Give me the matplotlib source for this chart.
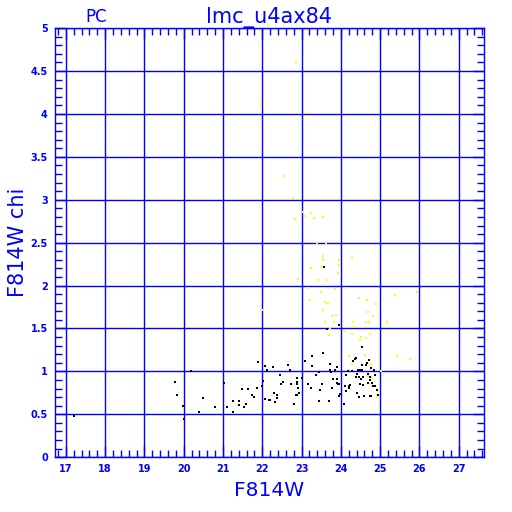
import matplotlib
matplotlib.use("Agg")
import matplotlib.pyplot as plt
from matplotlib.ticker import MultipleLocator

# black (good) points: F814W magnitude, chi
black_x = [17.20, 19.77, 19.83, 19.99, 20.01, 20.19, 20.38, 20.49, 20.79, 21.02,
           21.11, 21.25, 21.26, 21.40, 21.42, 21.49, 21.54, 21.58, 21.63,
           21.73, 21.80, 21.86, 21.89, 21.99, 22.03, 22.08, 22.11, 22.08, 22.16, 22.19,
           22.28, 22.30, 22.32, 22.38, 22.38, 22.45, 22.49, 22.52, 22.66, 22.70,
           22.72, 22.80, 22.86, 22.88, 22.88, 22.88, 22.89, 22.91, 22.93, 23.02,
           23.08, 23.17, 23.23, 23.27, 23.26, 23.37, 23.44, 23.45, 23.47, 23.52,
           23.54, 23.56, 23.64, 23.73, 23.71, 23.73, 23.76, 23.78, 23.79, 23.86,
           23.91, 23.91, 23.90, 23.93, 23.96, 23.96, 23.98, 23.95, 24.08, 24.10,
           24.12, 24.13, 24.19, 24.20, 24.22, 24.24, 24.29, 24.32, 24.36, 24.39,
           24.39, 24.41, 24.42, 24.44, 24.47, 24.49, 24.49, 24.51, 24.53, 24.46,
           24.54, 24.54, 24.56, 24.56, 24.58, 24.65, 24.66, 24.68, 24.70, 24.71,
           24.73, 24.73, 24.75, 24.78, 24.78, 24.80, 24.82, 24.84, 24.85, 24.87,
           24.88, 24.93, 24.95]
black_y = [0.48, 0.88, 0.72, 0.60, 0.44, 1.01, 0.53, 0.69, 0.58, 0.87,
           0.58, 0.65, 0.53, 0.65, 0.61, 0.80, 0.58, 0.62, 0.80,
           0.73, 0.70, 0.81, 1.11, 0.83, 0.89, 1.06, 1.02, 0.68, 0.67, 0.67,
           1.05, 0.75, 0.64, 0.73, 0.69, 0.96, 0.85, 0.88, 1.08, 1.02,
           0.85, 0.62, 0.73, 0.72, 0.88, 0.92, 0.85, 0.81, 0.75, 0.92,
           1.12, 0.85, 0.81, 1.18, 1.06, 0.96, 0.99, 0.66, 0.78, 0.85,
           1.22, 2.22, 1.49, 1.09, 0.66, 1.02, 0.99, 0.81, 0.91, 1.02,
           1.05, 0.91, 0.86, 0.85, 0.85, 0.71, 0.74, 1.54, 0.62, 0.83,
           0.96, 0.77, 1.00, 0.83, 0.81, 0.84, 1.01, 1.12, 1.15, 1.16,
           0.94, 0.75, 0.97, 1.02, 0.93, 1.02, 0.85, 0.91, 1.28, 0.70,
           1.08, 1.02, 0.94, 0.84, 0.71, 1.07, 1.10, 0.87, 0.97, 1.13,
           0.93, 0.90, 0.71, 1.04, 0.71, 0.86, 0.83, 1.02, 0.83, 0.96,
           0.83, 0.78, 0.73]

# yellow (rejected) points
yellow_x = [22.87, 21.97, 23.12, 22.56, 22.78, 23.04, 23.24, 23.09, 23.33, 23.55,
            22.83, 22.00,
            23.39, 23.62, 23.54, 23.54, 23.50, 23.23, 23.95, 23.95, 24.29, 23.92,
            22.91, 23.41, 23.62, 23.58, 23.17, 23.49, 23.85, 24.13, 25.38, 25.94,
            23.22, 23.59, 23.68, 24.46, 24.66, 24.90, 23.54, 23.88, 23.78, 24.70,
            24.82, 23.61, 23.83, 24.30, 24.65, 24.71, 25.17, 24.34, 23.73, 24.07,
            24.29, 23.69, 24.75, 24.51, 24.65, 24.49, 23.98, 24.20, 24.61, 25.44,
            25.77, 24.29, 24.76, 25.02, 25.72, 24.70, 24.80, 24.80, 24.92]
yellow_y = [4.60, 4.10, 4.01, 3.28, 3.02, 2.86, 2.85, 2.81, 2.79, 2.80,
            2.78, 1.72,
            2.48, 2.48, 2.34, 2.30, 2.22, 2.20, 2.30, 2.24, 2.32, 2.15,
            2.08, 2.06, 2.06, 2.01, 1.97, 1.93, 1.96, 1.97, 1.89, 1.93,
            1.83, 1.81, 1.80, 1.85, 1.83, 1.79, 1.72, 1.66, 1.64, 1.69,
            1.64, 1.58, 1.58, 1.58, 1.57, 1.57, 1.58, 1.52, 1.51, 1.47,
            1.44, 1.43, 1.44, 1.40, 1.39, 1.37, 1.17, 1.18, 1.19, 1.18,
            1.15, 1.09, 1.08, 1.01, 1.02, 0.95, 0.92, 0.83, 0.71]

x_ticks = [17, 18, 19, 20, 21, 22, 23, 24, 25, 26, 27]
y_ticks = [0, 0.5, 1, 1.5, 2, 2.5, 3, 3.5, 4, 4.5, 5]
y_tick_labels = ["0", "0.5", "1", "1.5", "2", "2.5", "3", "3.5", "4", "4.5", "5"]

BLUE = "#0000ff"

fig = plt.figure(figsize=(5.12, 5.12), dpi=100)
ax = fig.add_axes([0.107, 0.107, 0.838, 0.838])

ax.set_xlim(16.72, 27.64)
ax.set_ylim(0, 5)

ax.set_xticks(x_ticks)
ax.set_xticklabels([str(t) for t in x_ticks])
ax.set_yticks(y_ticks)
ax.set_yticklabels(y_tick_labels)
ax.xaxis.set_minor_locator(MultipleLocator(0.2))
ax.yaxis.set_minor_locator(MultipleLocator(0.1))

ax.grid(True, which="major", color=BLUE, linewidth=1.0)
ax.set_axisbelow(True)

for sp in ax.spines.values():
    sp.set_color(BLUE)
    sp.set_linewidth(1.0)

ax.tick_params(which="both", direction="in", top=True, right=True, color=BLUE)
ax.tick_params(which="major", length=8, width=1.0, labelsize=7, labelcolor=BLUE, pad=5)
ax.tick_params(which="minor", length=5, width=1.0)
for lab in ax.get_xticklabels() + ax.get_yticklabels():
    lab.set_fontweight("bold")

ax.scatter(yellow_x, yellow_y, marker="s", s=4, c="#ffff00", linewidths=0, zorder=3)
ax.scatter(black_x, black_y, marker="s", s=4, c="black", linewidths=0, zorder=4)

ax.set_title("lmc_u4ax84", color=BLUE, fontsize=15, pad=3)
fig.text(96 / 512, 1 - 17 / 512, "PC", color=BLUE, fontsize=12, ha="center", va="center")
ax.set_xlabel("F814W", color=BLUE, fontsize=14.5, labelpad=5)
ax.set_ylabel("F814W chi", color=BLUE, fontsize=15, labelpad=2)

fig.savefig("out.png", dpi=100)
